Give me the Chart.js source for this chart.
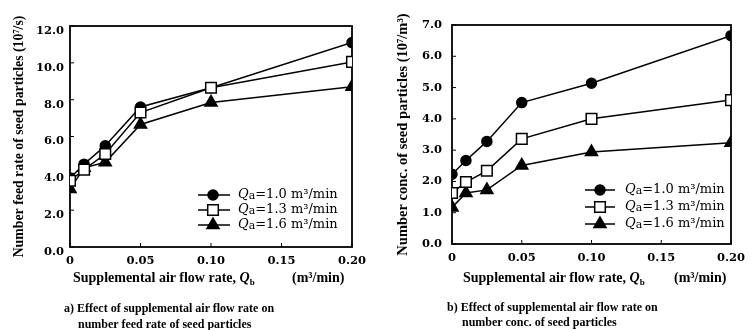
<!DOCTYPE html>
<html>
<head>
<meta charset="utf-8">
<script src="https://cdn.jsdelivr.net/npm/chart.js@4.4.1/dist/chart.umd.min.js"></script>
<style>
  body { margin: 0; background: #fff; width: 752px; height: 330px; overflow: hidden; position: relative; }
  .panel { position: absolute; top: 0; width: 376px; height: 290px; }
  .txt { position: absolute; white-space: nowrap; color: #000; font-family: 'Liberation Serif', serif; font-weight: bold; }
  .xt { font-size: 14px; line-height: 16px; }
  .cap { font-size: 12px; line-height: 15px; }
  .xt sub { font-size: 9px; vertical-align: 0; position: relative; top: 3px; font-style: normal; }
</style>
</head>
<body>
<div class="panel" style="left:0"><canvas id="feedChart" width="376" height="290"></canvas></div>
<div class="panel" style="left:376px"><canvas id="concChart" width="376" height="290"></canvas></div>

<div class="txt xt" style="left:73px; top:270px">Supplemental air flow rate, <i>Q</i><sub>b</sub></div>
<div class="txt xt" style="left:292px; top:270px">(m³/min)</div>
<div class="txt cap" style="left:64px; top:301px">a) Effect of supplemental air flow rate on</div>
<div class="txt cap" style="left:78px; top:317px">number feed rate of seed particles</div>

<div class="txt xt" style="left:463px; top:270px">Supplemental air flow rate, <i>Q</i><sub>b</sub></div>
<div class="txt xt" style="left:674px; top:270px">(m³/min)</div>
<div class="txt cap" style="left:447px; top:300px">b) Effect of supplemental air flow rate on</div>
<div class="txt cap" style="left:462px; top:315px">number conc. of seed particles</div>

<script>
const xValues = [0, 0.01, 0.025, 0.05, 0.10, 0.20];
const xTicks = [0, 0.05, 0.10, 0.15, 0.20];

const feedQa10 = [3.75, 4.5, 5.5, 7.6, 8.65, 11.1];
const feedQa13 = [3.6, 4.2, 5.05, 7.3, 8.65, 10.05];
const feedQa16 = [3.15, 4.3, 4.6, 6.65, 7.85, 8.7];
const feedTicks = [0, 2, 4, 6, 8, 10, 12];

const concQa10 = [2.23, 2.67, 3.28, 4.52, 5.14, 6.66];
const concQa13 = [1.63, 1.98, 2.34, 3.36, 4.0, 4.6];
const concQa16 = [1.17, 1.63, 1.73, 2.51, 2.94, 3.24];
const concTicks = [0, 1, 2, 3, 4, 5, 6, 7];

const qaLabels = ['1.0', '1.3', '1.6'];

const tickFont = { family: 'DejaVu Serif', weight: 'bold', size: 11.5 };

// box round the plot plus small inward ticks
const frameTicks = {
    id: 'frameTicks',
    beforeDatasetsDraw(chart) {
        const { ctx, chartArea: a, scales } = chart;
        ctx.save();
        ctx.strokeStyle = '#000';
        ctx.lineWidth = 1.8;
        ctx.strokeRect(a.left, a.top, a.right - a.left, a.bottom - a.top);
        ctx.lineWidth = 1;
        ctx.beginPath();
        scales.x.ticks.forEach(t => {
            const px = scales.x.getPixelForValue(t.value);
            ctx.moveTo(px, a.bottom);
            ctx.lineTo(px, a.bottom - 4);
        });
        scales.y.ticks.forEach(t => {
            const py = scales.y.getPixelForValue(t.value);
            ctx.moveTo(a.left, py);
            ctx.lineTo(a.left + 4, py);
        });
        ctx.stroke();
        ctx.restore();
    }
};

// legend drawn inside the plot, Qa with italic Q and subscript a
const qLegend = {
    id: 'qLegend',
    afterDatasetsDraw(chart, args, opts) {
        const ctx = chart.ctx;
        chart.data.datasets.forEach((ds, i) => {
            const y = opts.rows[i];
            ctx.save();
            ctx.strokeStyle = '#000';
            ctx.lineWidth = ds.borderWidth;
            ctx.beginPath();
            ctx.moveTo(opts.x1, y);
            ctx.lineTo(opts.x2, y);
            ctx.stroke();
            ctx.fillStyle = ds.pointBackgroundColor;
            ctx.strokeStyle = ds.pointBorderColor;
            ctx.lineWidth = ds.pointBorderWidth;
            Chart.helpers.drawPoint(ctx, {
                pointStyle: ds.pointStyle,
                radius: ds.pointRadius,
                borderWidth: ds.pointBorderWidth,
                rotation: 0
            }, opts.xm, y);

            ctx.fillStyle = '#000';
            ctx.textBaseline = 'middle';
            let x = opts.xt;
            ctx.font = 'italic 13px "DejaVu Serif"';
            ctx.fillText('Q', x, y);
            x += ctx.measureText('Q').width;
            ctx.font = '11px "DejaVu Serif"';
            ctx.fillText('a', x, y + 1);
            x += ctx.measureText('a').width;
            ctx.font = '13px "DejaVu Serif"';
            ctx.fillText('=' + qaLabels[i] + ' m³/min', x, y);
            ctx.restore();
        });
    }
};

function series(values, style, radius, fill, order) {
    return {
        data: xValues.map((x, i) => ({ x: x, y: values[i] })),
        borderColor: '#000',
        borderWidth: 1.5,
        pointStyle: style,
        pointRadius: radius,
        pointBackgroundColor: fill,
        pointBorderColor: '#000',
        pointBorderWidth: 1.5,
        order: order
    };
}

function makeChart(id, sets, yTicks, yMax, yTitle, geo) {
    return new Chart(document.getElementById(id), {
        type: 'line',
        data: {
            datasets: [
                series(sets[0], 'circle', 5, '#000', 1),
                series(sets[1], 'rect', 7.5, '#fff', 0),
                series(sets[2], 'triangle', 7, '#000', 2)
            ]
        },
        options: {
            responsive: false,
            animation: false,
            devicePixelRatio: 1,
            layout: { padding: { top: geo.top, right: geo.right, left: 0, bottom: 0 } },
            plugins: {
                legend: { display: false },
                tooltip: { enabled: false },
                qLegend: geo.legend
            },
            scales: {
                x: {
                    type: 'linear',
                    min: 0,
                    max: 0.2,
                    afterBuildTicks: s => { s.ticks = xTicks.map(v => ({ value: v })); },
                    afterFit: s => { s.height = 290 - geo.bottom; },
                    grid: { display: false, drawTicks: false },
                    border: { display: false },
                    ticks: {
                        color: '#000',
                        font: tickFont,
                        padding: 7,
                        maxRotation: 0,
                        callback: v => v === 0 ? '0' : v.toFixed(2)
                    }
                },
                y: {
                    min: 0,
                    max: yMax,
                    afterBuildTicks: s => { s.ticks = yTicks.map(v => ({ value: v })); },
                    afterFit: s => { s.width = geo.left; },
                    grid: { display: false, drawTicks: false },
                    border: { display: false },
                    ticks: {
                        color: '#000',
                        font: tickFont,
                        padding: geo.labelPad,
                        labelOffset: geo.labelOffset,
                        callback: v => v.toFixed(1)
                    },
                    title: {
                        display: true,
                        text: yTitle,
                        color: '#000',
                        font: { family: 'Liberation Serif', weight: 'bold', size: geo.titleSize },
                        padding: { top: geo.titlePad, bottom: 0 }
                    }
                }
            }
        },
        plugins: [frameTicks, qLegend]
    });
}

makeChart('feedChart', [feedQa10, feedQa13, feedQa16], feedTicks, 12,
    'Number feed rate of seed particles (10⁷/s)', {
        top: 26, right: 24, left: 70, bottom: 247,
        labelPad: 6, labelOffset: 5, titlePad: 11, titleSize: 13.8,
        legend: { x1: 198, x2: 230, xm: 213, xt: 238, rows: [195, 210, 225] }
    });

makeChart('concChart', [concQa10, concQa13, concQa16], concTicks, 7,
    'Number conc. of seed particles (10⁷/m³)', {
        top: 25, right: 18, left: 76, bottom: 244,
        labelPad: 10, labelOffset: 0, titlePad: 19, titleSize: 14.5,
        legend: { x1: 209, x2: 239, xm: 224, xt: 249, rows: [190, 207, 224] }
    });
</script>
</body>
</html>
